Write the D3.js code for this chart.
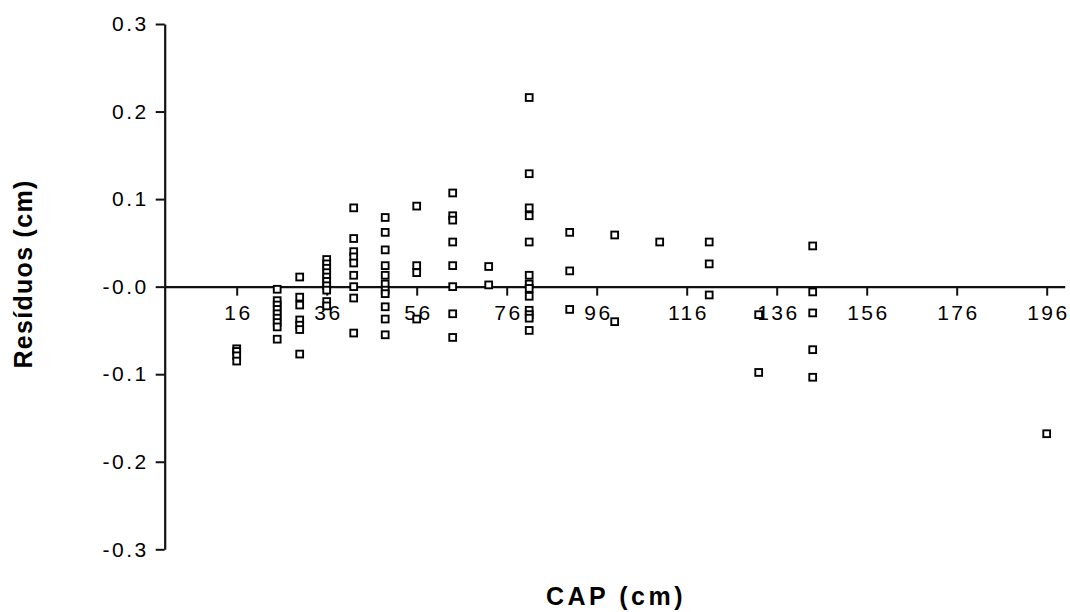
<!DOCTYPE html>
<meta charset="utf-8">
<script src="https://d3js.org/d3.v7.min.js"></script>
<style>
  body { margin: 0; background: #fff; }
  text { font-family: "Liberation Sans", Arial, sans-serif; fill: #000; }
</style>
<div id="chart"></div>
<script>
// CAP (cm) of each tree and its residual (cm)
var cap = [
  16, 16, 16, 16,
  25, 25, 25, 25, 25, 25, 25, 25, 25,
  30, 30, 30, 30, 30, 30, 30,
  36, 36, 36, 36, 36, 36, 36, 36, 36, 36,
  42, 42, 42, 42, 42, 42, 42, 42, 42,
  49, 49, 49, 49, 49, 49, 49, 49, 49, 49, 49,
  56, 56, 56, 56,
  64, 64, 64, 64, 64, 64, 64, 64,
  72, 72,
  81, 81, 81, 81, 81, 81, 81, 81, 81, 81, 81, 81, 81,
  90, 90, 90,
  100, 100,
  110,
  121, 121, 121,
  132, 132,
  144, 144, 144, 144, 144,
  196
];
var residuo = [
  -0.071, -0.074, -0.079, -0.085,
  -0.003, -0.016, -0.021, -0.026, -0.031, -0.036, -0.041, -0.046, -0.060,
  0.011, -0.012, -0.021, -0.038, -0.044, -0.049, -0.077,
  0.031, 0.026, 0.021, 0.016, 0.011, 0.006, 0.001, -0.004, -0.017, -0.022,
  0.090, 0.055, 0.040, 0.034, 0.027, 0.013, 0.000, -0.013, -0.053,
  0.079, 0.062, 0.042, 0.024, 0.013, 0.003, -0.004, -0.008, -0.023, -0.037, -0.055,
  0.092, 0.024, 0.016, -0.037,
  0.107, 0.081, 0.076, 0.051, 0.024, 0.000, -0.031, -0.058,
  0.023, 0.002,
  0.216, 0.129, 0.090, 0.081, 0.051, 0.013, 0.003, -0.002, -0.011, -0.027, -0.032, -0.036, -0.050,
  0.062, 0.018, -0.026,
  0.059, -0.040,
  0.051,
  0.051, 0.026, -0.0095,
  -0.032, -0.098,
  0.0465, -0.006, -0.030, -0.072, -0.1035,
  -0.168
];
var xTicks = [16, 36, 56, 76, 96, 116, 136, 156, 176, 196];
var yTicks = [0.3, 0.2, 0.1, 0, -0.1, -0.2, -0.3];

var data = cap.map(function (c, i) { return {cap: c, res: residuo[i]}; });

var width = 1070, height = 612;

var svg = d3.select("#chart")
  .append("svg")
  .attr("width", width)
  .attr("height", height);

var x = d3.scaleLinear().domain([0, 200]).range([164.7, 1064.7]);
var y = d3.scaleLinear().domain([-0.3, 0.3]).range([549.3, 24]);

// y axis
var yAxis = svg.append("g")
  .attr("transform", "translate(" + x(0) + ",0)")
  .call(d3.axisLeft(y)
    .tickValues(yTicks)
    .tickSize(9)
    .tickSizeOuter(0)
    .tickPadding(7)
    .tickFormat(function (d) { return d === 0 ? "-0.0" : d.toFixed(1); }));

// x axis drawn through zero
var xAxis = svg.append("g")
  .attr("transform", "translate(0," + y(0) + ")")
  .call(d3.axisBottom(x)
    .tickValues(xTicks)
    .tickSize(9)
    .tickSizeOuter(0)
    .tickPadding(9));

[yAxis, xAxis].forEach(function (g) {
  g.select(".domain").attr("stroke", "#111").attr("stroke-width", 2.2);
  g.selectAll(".tick line").attr("stroke", "#111").attr("stroke-width", 2);
  g.selectAll(".tick text")
    .style("font-size", "21px")
    .style("letter-spacing", "2.5px")
    .attr("fill", "#000");
});
xAxis.selectAll(".tick text").attr("dx", "1.2px");

// points
svg.append("g")
  .selectAll("rect")
  .data(data)
  .enter()
  .append("rect")
  .attr("x", function (d) { return x(d.cap) - 3.4; })
  .attr("y", function (d) { return y(d.res) - 3.4; })
  .attr("width", 6.8)
  .attr("height", 6.8)
  .attr("fill", "#fff")
  .attr("stroke", "#000")
  .attr("stroke-width", 1.9);

// axis titles
svg.append("text")
  .attr("x", 616)
  .attr("y", 605)
  .attr("text-anchor", "middle")
  .style("font-size", "25px")
  .style("font-weight", "bold")
  .style("letter-spacing", "3.5px")
  .text("CAP (cm)");

svg.append("text")
  .attr("transform", "translate(32,274) rotate(-90)")
  .attr("text-anchor", "middle")
  .style("font-size", "25px")
  .style("font-weight", "bold")
  .style("letter-spacing", "1.3px")
  .text("Resíduos (cm)");
</script>
